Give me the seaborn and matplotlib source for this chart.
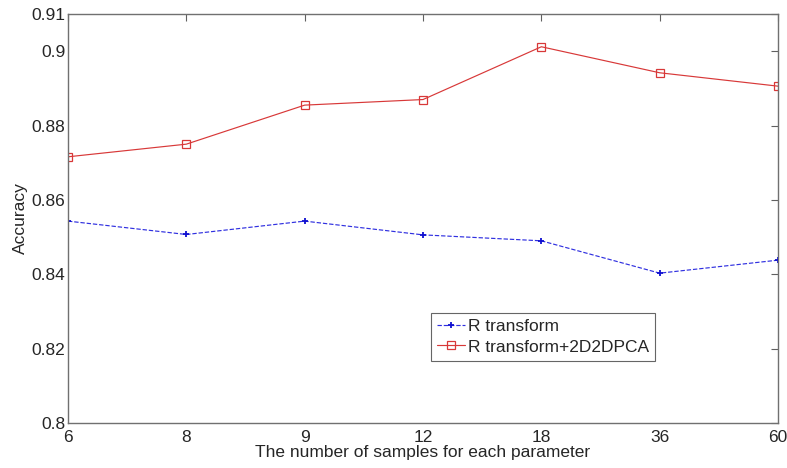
import matplotlib
matplotlib.use('Agg')
import matplotlib.pyplot as plt
import seaborn as sns
import pandas as pd
import numpy as np

# data
samples = ['6', '8', '9', '12', '18', '36', '60']
r_transform = [0.8543, 0.8507, 0.8543, 0.8506, 0.8490, 0.8403, 0.8438]
r_2d2dpca = [0.8716, 0.8750, 0.8855, 0.8870, 0.9012, 0.8942, 0.8906]

sns.set_style('white')
plt.rcParams['font.family'] = ['Liberation Sans', 'DejaVu Sans']
plt.rcParams['font.size'] = 12.5

pos = np.arange(len(samples))
df = pd.DataFrame({'pos': np.concatenate([pos, pos]),
                   'acc': r_transform + r_2d2dpca,
                   'method': ['R transform'] * len(samples) + ['R transform+2D2DPCA'] * len(samples)})

fig = plt.figure(figsize=(7.87, 4.68), dpi=100)
ax = fig.add_axes([0.0864, 0.0962, 0.9022, 0.8738])

sub = df[df.method == 'R transform']
sns.lineplot(data=sub, x='pos', y='acc', ax=ax, color='#3030e0', linestyle='--',
             linewidth=0.85, marker='+', markersize=5, markeredgewidth=1.3,
             markeredgecolor='#1010d0', label='R transform')
sub = df[df.method == 'R transform+2D2DPCA']
sns.lineplot(data=sub, x='pos', y='acc', ax=ax, color='#d83838', linestyle='-',
             linewidth=0.85, marker='s', markersize=5.5, markerfacecolor='none',
             markeredgecolor='#d83838', markeredgewidth=0.9,
             label='R transform+2D2DPCA')

ax.set_xlim(0, len(samples) - 1)
ax.set_ylim(0.8, 0.91)
ax.set_xticks(pos)
ax.set_xticklabels(samples)
ax.set_yticks([0.8, 0.82, 0.84, 0.86, 0.88, 0.9, 0.91])
ax.set_yticklabels(['0.8', '0.82', '0.84', '0.86', '0.88', '0.9', '0.91'])
ax.tick_params(direction='in', length=5, top=True, right=True, width=0.8,
               color='#606060', labelsize=12.5, pad=2)
ax.tick_params(axis='x', pad=5)
for s in ax.spines.values():
    s.set_color('#707070')
    s.set_linewidth(1.0)

ax.set_xlabel('The number of samples for each parameter', fontsize=12.5, labelpad=0)
ax.set_ylabel('Accuracy', fontsize=12.5, labelpad=2)

leg = ax.legend(loc='upper left', bbox_to_anchor=(0.511, 0.269), fancybox=False,
                frameon=True, edgecolor='#404040', fontsize=12.5,
                handlelength=1.6, handletextpad=0.2, borderpad=0.35,
                labelspacing=0.3, borderaxespad=0)
leg.get_frame().set_linewidth(0.8)

fig.savefig('out.png', dpi=100)
